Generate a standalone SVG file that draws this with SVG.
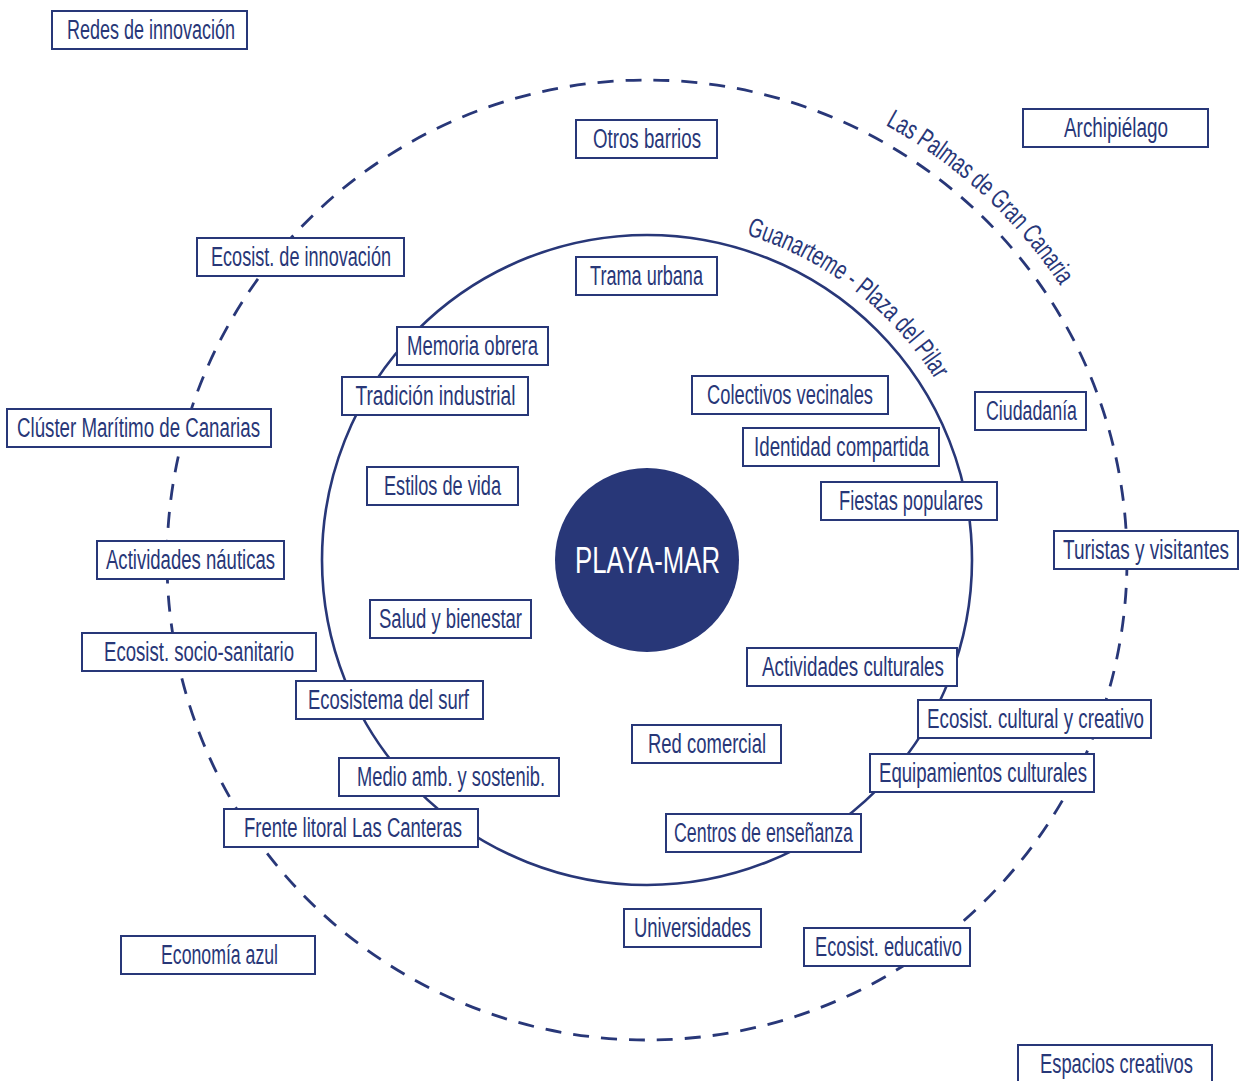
<svg xmlns="http://www.w3.org/2000/svg" xmlns:xlink="http://www.w3.org/1999/xlink" width="1241" height="1081" viewBox="0 0 1241 1081">
<style>
.box rect{fill:#fff;stroke:#283778;stroke-width:2}
.lbl{font-family:"Liberation Sans Narrow","Liberation Sans",sans-serif;font-size:27px;fill:#283778}
.ring{fill:none;stroke:#283778}
</style>
<defs>
<path id="arcInner" d="M746.4,234.9 A340,340 0 0 1 947.2,400.4"/>
<path id="arcOuter" d="M885.2,125 A496,496 0 0 1 1076.5,312"/>
</defs>
<rect width="1241" height="1081" fill="#fff"/>
<g id="rings">
<circle class="ring" cx="647" cy="560" r="480" stroke-width="2.8" stroke-dasharray="16 12"/>
<circle class="ring" cx="647" cy="560" r="325" stroke-width="2.6"/>
<text class="lbl"><textPath xlink:href="#arcInner" href="#arcInner" textLength="243" lengthAdjust="spacingAndGlyphs">Guanarteme - Plaza del Pilar</textPath></text>
<text class="lbl"><textPath xlink:href="#arcOuter" href="#arcOuter" textLength="240" lengthAdjust="spacingAndGlyphs">Las Palmas de Gran Canaria</textPath></text>
</g>
<g id="center">
<circle cx="647" cy="560" r="92" fill="#283778"/>
<text x="575" y="573" font-family="Liberation Sans Narrow,Liberation Sans,sans-serif" font-size="36" fill="#fff" textLength="145" lengthAdjust="spacingAndGlyphs">PLAYA-MAR</text>
</g>
<g id="connectors"></g>
<g id="n1" class="box"><rect x="52" y="11" width="195" height="38"/><text class="lbl" x="67" y="39" textLength="168" lengthAdjust="spacingAndGlyphs">Redes de innovación</text></g>
<g id="n2" class="box"><rect x="576" y="120" width="141" height="38"/><text class="lbl" x="593" y="148" textLength="108" lengthAdjust="spacingAndGlyphs">Otros barrios</text></g>
<g id="n3" class="box"><rect x="1023" y="109" width="185" height="38"/><text class="lbl" x="1064" y="137" textLength="104" lengthAdjust="spacingAndGlyphs">Archipiélago</text></g>
<g id="n4" class="box"><rect x="197" y="238" width="207" height="38"/><text class="lbl" x="211" y="266" textLength="180" lengthAdjust="spacingAndGlyphs">Ecosist. de innovación</text></g>
<g id="n5" class="box"><rect x="576" y="257" width="141" height="38"/><text class="lbl" x="590" y="285" textLength="113" lengthAdjust="spacingAndGlyphs">Trama urbana</text></g>
<g id="n6" class="box"><rect x="397" y="327" width="151" height="38"/><text class="lbl" x="407" y="355" textLength="131" lengthAdjust="spacingAndGlyphs">Memoria obrera</text></g>
<g id="n7" class="box"><rect x="342" y="377" width="186" height="38"/><text class="lbl" x="355.5" y="405" textLength="160" lengthAdjust="spacingAndGlyphs">Tradición industrial</text></g>
<g id="n8" class="box"><rect x="692" y="376" width="196" height="38"/><text class="lbl" x="707" y="404" textLength="166" lengthAdjust="spacingAndGlyphs">Colectivos vecinales</text></g>
<g id="n9" class="box"><rect x="975" y="392" width="111" height="38"/><text class="lbl" x="986" y="420" textLength="91" lengthAdjust="spacingAndGlyphs">Ciudadanía</text></g>
<g id="n10" class="box"><rect x="7" y="409" width="264" height="38"/><text class="lbl" x="17" y="437" textLength="243" lengthAdjust="spacingAndGlyphs">Clúster Marítimo de Canarias</text></g>
<g id="n11" class="box"><rect x="743" y="428" width="196" height="38"/><text class="lbl" x="754" y="456" textLength="175" lengthAdjust="spacingAndGlyphs">Identidad compartida</text></g>
<g id="n12" class="box"><rect x="367" y="467" width="151" height="38"/><text class="lbl" x="384" y="495" textLength="117" lengthAdjust="spacingAndGlyphs">Estilos de vida</text></g>
<g id="n13" class="box"><rect x="821" y="482" width="176" height="38"/><text class="lbl" x="839" y="510" textLength="144" lengthAdjust="spacingAndGlyphs">Fiestas populares</text></g>
<g id="n14" class="box"><rect x="1054" y="531" width="184" height="38"/><text class="lbl" x="1063" y="559" textLength="166" lengthAdjust="spacingAndGlyphs">Turistas y visitantes</text></g>
<g id="n15" class="box"><rect x="97" y="541" width="187" height="38"/><text class="lbl" x="106" y="569" textLength="169" lengthAdjust="spacingAndGlyphs">Actividades náuticas</text></g>
<g id="n16" class="box"><rect x="370" y="600" width="161" height="38"/><text class="lbl" x="379" y="628" textLength="143" lengthAdjust="spacingAndGlyphs">Salud y bienestar</text></g>
<g id="n17" class="box"><rect x="82" y="633" width="234" height="38"/><text class="lbl" x="104" y="661" textLength="190" lengthAdjust="spacingAndGlyphs">Ecosist. socio-sanitario</text></g>
<g id="n18" class="box"><rect x="747" y="648" width="210" height="38"/><text class="lbl" x="762" y="676" textLength="182" lengthAdjust="spacingAndGlyphs">Actividades culturales</text></g>
<g id="n19" class="box"><rect x="296" y="681" width="187" height="38"/><text class="lbl" x="308" y="709" textLength="161" lengthAdjust="spacingAndGlyphs">Ecosistema del surf</text></g>
<g id="n20" class="box"><rect x="918" y="700" width="233" height="38"/><text class="lbl" x="927" y="728" textLength="217" lengthAdjust="spacingAndGlyphs">Ecosist. cultural y creativo</text></g>
<g id="n21" class="box"><rect x="632" y="725" width="149" height="38"/><text class="lbl" x="648" y="753" textLength="118" lengthAdjust="spacingAndGlyphs">Red comercial</text></g>
<g id="n22" class="box"><rect x="870" y="754" width="224" height="38"/><text class="lbl" x="879" y="782" textLength="208" lengthAdjust="spacingAndGlyphs">Equipamientos culturales</text></g>
<g id="n23" class="box"><rect x="339" y="758" width="220" height="38"/><text class="lbl" x="357" y="786" textLength="188" lengthAdjust="spacingAndGlyphs">Medio amb. y sostenib.</text></g>
<g id="n24" class="box"><rect x="224" y="809" width="254" height="38"/><text class="lbl" x="244" y="837" textLength="218" lengthAdjust="spacingAndGlyphs">Frente litoral Las Canteras</text></g>
<g id="n25" class="box"><rect x="666" y="814" width="195" height="38"/><text class="lbl" x="674" y="842" textLength="179" lengthAdjust="spacingAndGlyphs">Centros de enseñanza</text></g>
<g id="n26" class="box"><rect x="624" y="909" width="137" height="38"/><text class="lbl" x="634" y="937" textLength="117" lengthAdjust="spacingAndGlyphs">Universidades</text></g>
<g id="n27" class="box"><rect x="804" y="928" width="166" height="38"/><text class="lbl" x="815" y="956" textLength="147" lengthAdjust="spacingAndGlyphs">Ecosist. educativo</text></g>
<g id="n28" class="box"><rect x="121" y="936" width="194" height="38"/><text class="lbl" x="161" y="964" textLength="117" lengthAdjust="spacingAndGlyphs">Economía azul</text></g>
<g id="n29" class="box"><rect x="1018" y="1045" width="194" height="38"/><text class="lbl" x="1040" y="1073" textLength="153" lengthAdjust="spacingAndGlyphs">Espacios creativos</text></g>
</svg>
